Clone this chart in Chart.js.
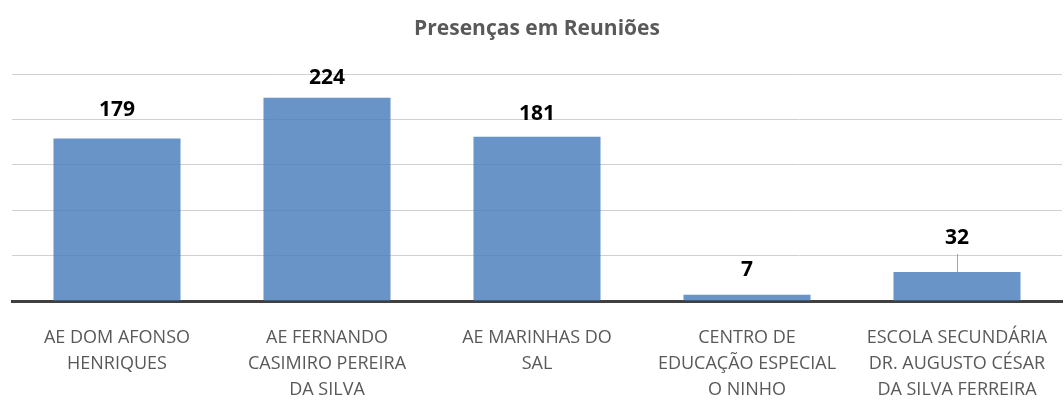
<!DOCTYPE html>
<html lang="pt">
<head>
    <meta charset="UTF-8">
    <title>Presenças em Reuniões</title>
    <script src="https://cdn.jsdelivr.net/npm/chart.js"></script>
    <style>
        html, body { margin: 0; padding: 0; background: #fff; }
        .chart-box { width: 1064px; height: 401px; }
    </style>
</head>
<body>
    <div class="chart-box">
        <canvas id="presencas"></canvas>
    </div>

    <script>
        // Data
        const categories = [
            ['AE DOM AFONSO', 'HENRIQUES'],
            ['AE FERNANDO', 'CASIMIRO PEREIRA', 'DA SILVA'],
            ['AE MARINHAS DO', 'SAL'],
            ['CENTRO DE', 'EDUCAÇÃO ESPECIAL', 'O NINHO'],
            ['ESCOLA SECUNDÁRIA', 'DR. AUGUSTO CÉSAR', 'DA SILVA FERREIRA']
        ];
        const presencas = [179, 224, 181, 7, 32];
        const yTicks = [0, 50, 100, 150, 200, 250];

        // distance (px) from bar top to label centre, as placed in the original
        const labelGap = [29, 20, 23, 25, 34];
        // labels with a leader line back to the bar
        const leader = [false, false, false, false, true];

        const FONT = "'Open Sans', 'Noto Sans', sans-serif";

        // Value labels above bars
        const valueLabels = {
            id: 'valueLabels',
            afterDatasetsDraw(chart) {
                const ctx = chart.ctx;
                const meta = chart.getDatasetMeta(0);
                ctx.save();
                meta.data.forEach((bar, i) => {
                    const textY = bar.y - labelGap[i];
                    if (leader[i]) {
                        ctx.strokeStyle = '#a6a6a6';
                        ctx.lineWidth = 1;
                        ctx.beginPath();
                        ctx.moveTo(Math.round(bar.x) + 0.5, bar.y);
                        ctx.lineTo(Math.round(bar.x) + 0.5, textY + 16);
                        ctx.stroke();
                    }
                    ctx.fillStyle = '#000';
                    ctx.font = 'bold 21px ' + FONT;
                    ctx.textAlign = 'center';
                    ctx.textBaseline = 'middle';
                    ctx.fillText(String(presencas[i]), bar.x, textY);
                });
                ctx.restore();
            }
        };

        const ctx = document.getElementById('presencas').getContext('2d');
        new Chart(ctx, {
            type: 'bar',
            data: {
                labels: categories,
                datasets: [{
                    label: 'Presenças',
                    data: presencas,
                    backgroundColor: 'rgba(79, 129, 189, 0.85)',
                    borderWidth: 0,
                    barPercentage: 0.605,
                    categoryPercentage: 1
                }]
            },
            options: {
                responsive: true,
                maintainAspectRatio: false,
                animation: false,
                layout: { padding: { left: 12, right: 2, top: 0, bottom: 0 } },
                plugins: {
                    legend: { display: false },
                    tooltip: { enabled: false },
                    title: {
                        display: true,
                        text: 'Presenças em Reuniões',
                        color: '#595959',
                        font: { family: FONT, size: 21, weight: 'bold' },
                        padding: { top: 16, bottom: 33 }
                    }
                },
                scales: {
                    x: {
                        afterFit: (axis) => {
                            axis.height = 100;
                            axis.paddingLeft = 0;
                            axis.paddingRight = 0;
                        },
                        grid: { display: false, drawTicks: false },
                        border: { display: true, color: '#404040', width: 3 },
                        ticks: {
                            color: '#595959',
                            font: { family: FONT, size: 18, lineHeight: 1.444 },
                            padding: 24,
                            maxRotation: 0,
                            minRotation: 0,
                            autoSkip: false
                        }
                    },
                    y: {
                        min: yTicks[0],
                        max: yTicks[yTicks.length - 1],
                        afterBuildTicks: (axis) => { axis.ticks = yTicks.map(v => ({ value: v })); },
                        ticks: { display: false },
                        grid: { color: '#d0d0d0', lineWidth: 1, drawTicks: false },
                        border: { display: false }
                    }
                }
            },
            plugins: [valueLabels]
        });
    </script>
</body>
</html>
